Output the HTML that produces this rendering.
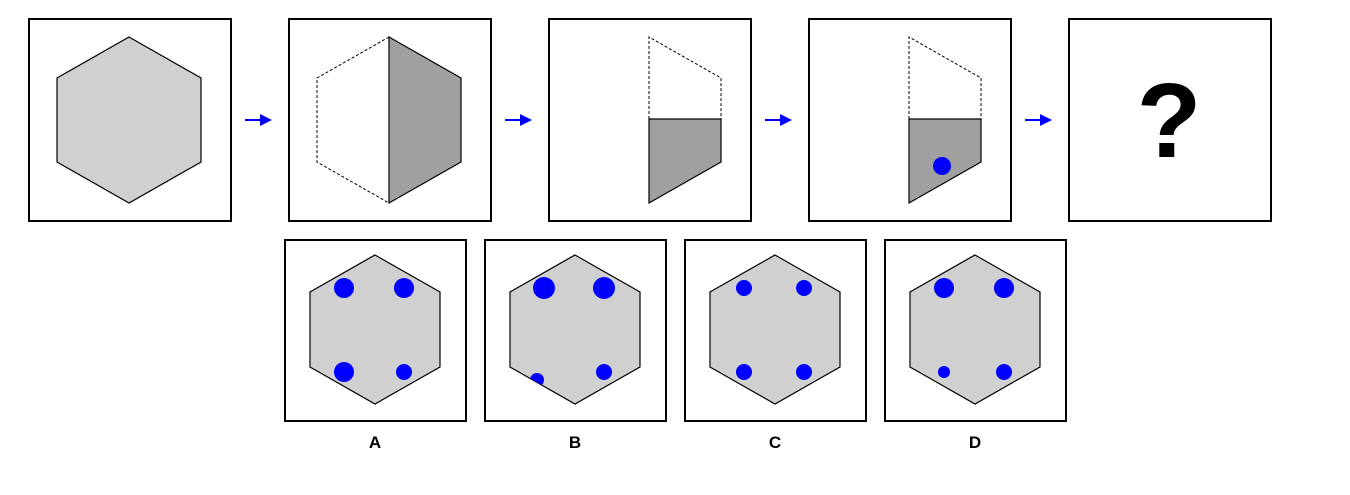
<!DOCTYPE html>
<html><head><meta charset="utf-8"><style>
body{margin:0;background:#fff;width:1350px;height:490px;overflow:hidden}
svg text{font-family:"Liberation Sans",sans-serif;font-weight:bold}
</style></head><body>
<svg width="1350" height="490" viewBox="0 0 1350 490">
<defs><marker id="ah" markerWidth="6" markerHeight="6" refX="5" refY="3" orient="auto" markerUnits="strokeWidth"><path d="M0,0 L6,3 L0,6 z" fill="#00f"/></marker>
<clipPath id="hexB"><polygon points="575,255 640,292 640,367 575,404 510,367 510,292"/></clipPath></defs>
<g stroke="#000" stroke-width="2" fill="#fff">
<rect x="29" y="19" width="202" height="202"/>
<rect x="289" y="19" width="202" height="202"/>
<rect x="549" y="19" width="202" height="202"/>
<rect x="809" y="19" width="202" height="202"/>
<rect x="1069" y="19" width="202" height="202"/>
</g>
<polygon points="129,37 201,78 201,162 129,203 57,162 57,78" fill="#d0d0d0" stroke="#000" stroke-width="1.2"/>
<polyline points="389,37 317,78 317,162 389,203" fill="none" stroke="#000" stroke-width="1" stroke-dasharray="3,2"/>
<polygon points="389,37 461,78 461,162 389,203" fill="#a0a0a0" stroke="#000" stroke-width="1.2"/>
<polyline points="649,119 649,37 721,78 721,119" fill="none" stroke="#000" stroke-width="1" stroke-dasharray="3,2"/>
<polygon points="649,119 721,119 721,162 649,203" fill="#a0a0a0" stroke="#000" stroke-width="1.2"/>
<polyline points="909,119 909,37 981,78 981,119" fill="none" stroke="#000" stroke-width="1" stroke-dasharray="3,2"/>
<polygon points="909,119 981,119 981,162 909,203" fill="#a0a0a0" stroke="#000" stroke-width="1.2"/>
<circle cx="942" cy="166" r="9" fill="#00f"/>
<text x="1169" y="157" font-size="106" text-anchor="middle">?</text>
<g stroke="#00f" stroke-width="2" marker-end="url(#ah)">
<line x1="245" y1="120" x2="270" y2="120"/>
<line x1="505" y1="120" x2="530" y2="120"/>
<line x1="765" y1="120" x2="790" y2="120"/>
<line x1="1025" y1="120" x2="1050" y2="120"/>
</g>
<g id="opts"></g>
</svg>
<script>
const labels=['A','B','C','D'];
const dots=[
 [[344,288,10],[404,288,10],[344,372,10],[404,372,8]],
 [[544,288,11],[604,288,11],[537,380,7],[604,372,8]],
 [[744,288,8],[804,288,8],[744,372,8],[804,372,8]],
 [[944,288,10],[1004,288,10],[944,372,6],[1004,372,8]]
];
const ns='http://www.w3.org/2000/svg';
const g=document.getElementById('opts');
labels.forEach((L,i)=>{
 const x0=285+i*200, cx=375+i*200;
 const r=document.createElementNS(ns,'rect');
 
 
 r.setAttribute('x',x0);r.setAttribute('y',240);r.setAttribute('width',181);r.setAttribute('height',181);
 r.setAttribute('fill','#fff');r.setAttribute('stroke','#000');r.setAttribute('stroke-width','2');
 g.appendChild(r);
 const p=document.createElementNS(ns,'polygon');
 
 
 p.setAttribute('points',`${cx},255 ${cx+65},292 ${cx+65},367 ${cx},404 ${cx-65},367 ${cx-65},292`);
 p.setAttribute('fill','#d0d0d0');p.setAttribute('stroke','#000');p.setAttribute('stroke-width','1.2');
 g.appendChild(p);
 dots[i].forEach(d=>{
  const c=document.createElementNS(ns,'circle');
  
  
  c.setAttribute('cx',d[0]);c.setAttribute('cy',d[1]);c.setAttribute('r',d[2]);c.setAttribute('fill','#00f');
  if(i===1) c.setAttribute('clip-path','url(#hexB)');
  g.appendChild(c);
 });
 const t=document.createElementNS(ns,'text');
 
 
 t.setAttribute('x',cx);t.setAttribute('y',448);t.setAttribute('font-size','17');t.setAttribute('text-anchor','middle');
 t.textContent=L;
 g.appendChild(t);
});
</script>
</body></html>
